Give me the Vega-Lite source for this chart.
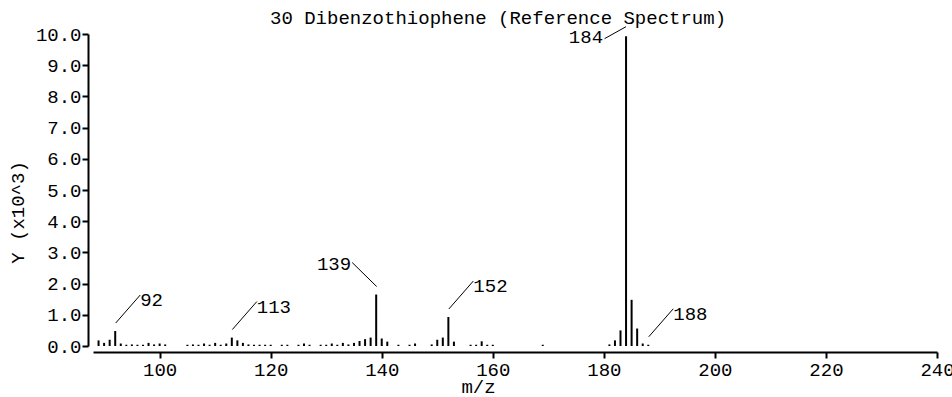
{
  "$schema": "https://vega.github.io/schema/vega-lite/v6.json",
  "width": 844,
  "height": 312,
  "autosize": {"type": "none"},
  "padding": {"left": 93, "top": 34, "right": 15, "bottom": 51},
  "background": "white",
  "config": {"view": {"stroke": null}, "font": "Liberation Mono"},
  "title": {
    "text": "30 Dibenzothiophene (Reference Spectrum)",
    "anchor": "start",
    "frame": "group",
    "dx": 177,
    "dy": 26,
    "offset": 8,
    "baseline": "alphabetic",
    "font": "Liberation Mono",
    "fontSize": 19,
    "fontWeight": "normal",
    "color": "black"
  },
  "data": {
    "values": [
      {"mz": 89, "y": 0.18}, {"mz": 90, "y": 0.10}, {"mz": 91, "y": 0.20},
      {"mz": 92, "y": 0.48, "label": "92"}, {"mz": 93, "y": 0.08}, {"mz": 94, "y": 0.04},
      {"mz": 95, "y": 0.05}, {"mz": 96, "y": 0.04}, {"mz": 97, "y": 0.04},
      {"mz": 98, "y": 0.10}, {"mz": 99, "y": 0.05}, {"mz": 100, "y": 0.08},
      {"mz": 101, "y": 0.05}, {"mz": 105, "y": 0.04}, {"mz": 106, "y": 0.05},
      {"mz": 107, "y": 0.04}, {"mz": 108, "y": 0.08}, {"mz": 109, "y": 0.04},
      {"mz": 110, "y": 0.10}, {"mz": 111, "y": 0.04}, {"mz": 112, "y": 0.08},
      {"mz": 113, "y": 0.27, "label": "113"}, {"mz": 114, "y": 0.18}, {"mz": 115, "y": 0.10},
      {"mz": 116, "y": 0.05}, {"mz": 117, "y": 0.04}, {"mz": 118, "y": 0.04},
      {"mz": 119, "y": 0.04}, {"mz": 120, "y": 0.04}, {"mz": 122, "y": 0.04},
      {"mz": 123, "y": 0.04}, {"mz": 125, "y": 0.04}, {"mz": 126, "y": 0.08},
      {"mz": 127, "y": 0.04}, {"mz": 129, "y": 0.04}, {"mz": 130, "y": 0.04},
      {"mz": 131, "y": 0.08}, {"mz": 132, "y": 0.04}, {"mz": 133, "y": 0.10},
      {"mz": 134, "y": 0.05}, {"mz": 135, "y": 0.10}, {"mz": 136, "y": 0.16},
      {"mz": 137, "y": 0.22}, {"mz": 138, "y": 0.27}, {"mz": 139, "y": 1.65, "label": "139"},
      {"mz": 140, "y": 0.24}, {"mz": 141, "y": 0.14}, {"mz": 143, "y": 0.04},
      {"mz": 145, "y": 0.04}, {"mz": 146, "y": 0.08}, {"mz": 149, "y": 0.05},
      {"mz": 150, "y": 0.20}, {"mz": 151, "y": 0.27}, {"mz": 152, "y": 0.93, "label": "152"},
      {"mz": 153, "y": 0.14}, {"mz": 156, "y": 0.04}, {"mz": 157, "y": 0.04},
      {"mz": 158, "y": 0.15}, {"mz": 159, "y": 0.04}, {"mz": 160, "y": 0.04},
      {"mz": 169, "y": 0.04}, {"mz": 181, "y": 0.05}, {"mz": 182, "y": 0.18},
      {"mz": 183, "y": 0.50}, {"mz": 184, "y": 9.93, "label": "184"}, {"mz": 185, "y": 1.48},
      {"mz": 186, "y": 0.56}, {"mz": 187, "y": 0.08}, {"mz": 188, "y": 0.04, "label": "188"}
    ]
  },
  "encoding": {
    "x": {
      "field": "mz", "type": "quantitative",
      "scale": {"domain": [88, 240], "nice": false, "zero": false},
      "axis": {
        "title": "m/z",
        "values": [100, 120, 140, 160, 180, 200, 220, 240],
        "tickCount": 20,
        "format": "d",
        "offset": 6,
        "grid": false,
        "domainColor": "black", "domainWidth": 2,
        "tickColor": "black", "tickWidth": 2, "tickSize": 6,
        "labelPadding": 2, "labelFont": "Liberation Mono", "labelFontSize": 19,
        "labelColor": "black", "labelFlush": false, "labelOverlap": false, "labelBound": false,
        "titleFont": "Liberation Mono", "titleFontSize": 19, "titleFontWeight": "normal",
        "titleColor": "black", "titleX": 385, "titleY": 40,
        "titleBaseline": "alphabetic", "titleAlign": "center"
      }
    },
    "y": {
      "field": "y", "type": "quantitative",
      "scale": {"domain": [0, 10], "nice": false},
      "axis": {
        "title": "Y (x10^3)",
        "values": [0, 1, 2, 3, 4, 5, 6, 7, 8, 9, 10],
        "tickCount": 20,
        "format": ".1f",
        "offset": 5,
        "grid": false,
        "domainColor": "black", "domainWidth": 2,
        "tickColor": "black", "tickWidth": 2, "tickSize": 6,
        "labelPadding": 1, "labelFont": "Liberation Mono", "labelFontSize": 19,
        "labelColor": "black", "labelOverlap": false, "labelBound": false,
        "titleFont": "Liberation Mono", "titleFontSize": 19, "titleFontWeight": "normal",
        "titleColor": "black", "titleX": -71, "titleY": 178, "titleAngle": -90,
        "titleBaseline": "middle", "titleAlign": "center"
      }
    }
  },
  "layer": [
    {
      "mark": {"type": "rule", "color": "black", "strokeWidth": 2},
      "encoding": {
        "y2": {"datum": 0}
      }
    },
    {
      "transform": [{"filter": {"field": "label", "oneOf": ["92", "113", "152", "188"]}}],
      "mark": {"type": "rule", "color": "black", "strokeWidth": 1, "xOffset": 0.5, "yOffset": -8, "x2Offset": 25, "y2Offset": -36},
      "encoding": {
        "x2": {"field": "mz"},
        "y2": {"field": "y"}
      }
    },
    {
      "transform": [{"filter": {"field": "label", "oneOf": ["92", "113", "152", "188"]}}],
      "mark": {"type": "text", "color": "black", "font": "Liberation Mono", "fontSize": 19, "align": "left", "baseline": "middle", "dx": 25, "dy": -31},
      "encoding": {
        "text": {"field": "label"}
      }
    },
    {
      "transform": [{"filter": {"field": "label", "equal": "139"}}],
      "mark": {"type": "rule", "color": "black", "strokeWidth": 1, "xOffset": 0.5, "yOffset": -8, "x2Offset": -24, "y2Offset": -32},
      "encoding": {
        "x2": {"field": "mz"},
        "y2": {"field": "y"}
      }
    },
    {
      "transform": [{"filter": {"field": "label", "equal": "139"}}],
      "mark": {"type": "text", "color": "black", "font": "Liberation Mono", "fontSize": 19, "align": "right", "baseline": "middle", "dx": -25, "dy": -31},
      "encoding": {
        "text": {"field": "label"}
      }
    },
    {
      "transform": [{"filter": {"field": "label", "equal": "184"}}],
      "mark": {"type": "rule", "color": "black", "strokeWidth": 1, "xOffset": 0, "yOffset": -9.5, "x2Offset": -21.5, "y2Offset": 2.5},
      "encoding": {
        "x2": {"field": "mz"},
        "y2": {"field": "y"}
      }
    },
    {
      "transform": [{"filter": {"field": "label", "equal": "184"}}],
      "mark": {"type": "text", "color": "black", "font": "Liberation Mono", "fontSize": 19, "align": "right", "baseline": "middle", "dx": -23, "dy": 0.5},
      "encoding": {
        "text": {"field": "label"}
      }
    }
  ]
}
